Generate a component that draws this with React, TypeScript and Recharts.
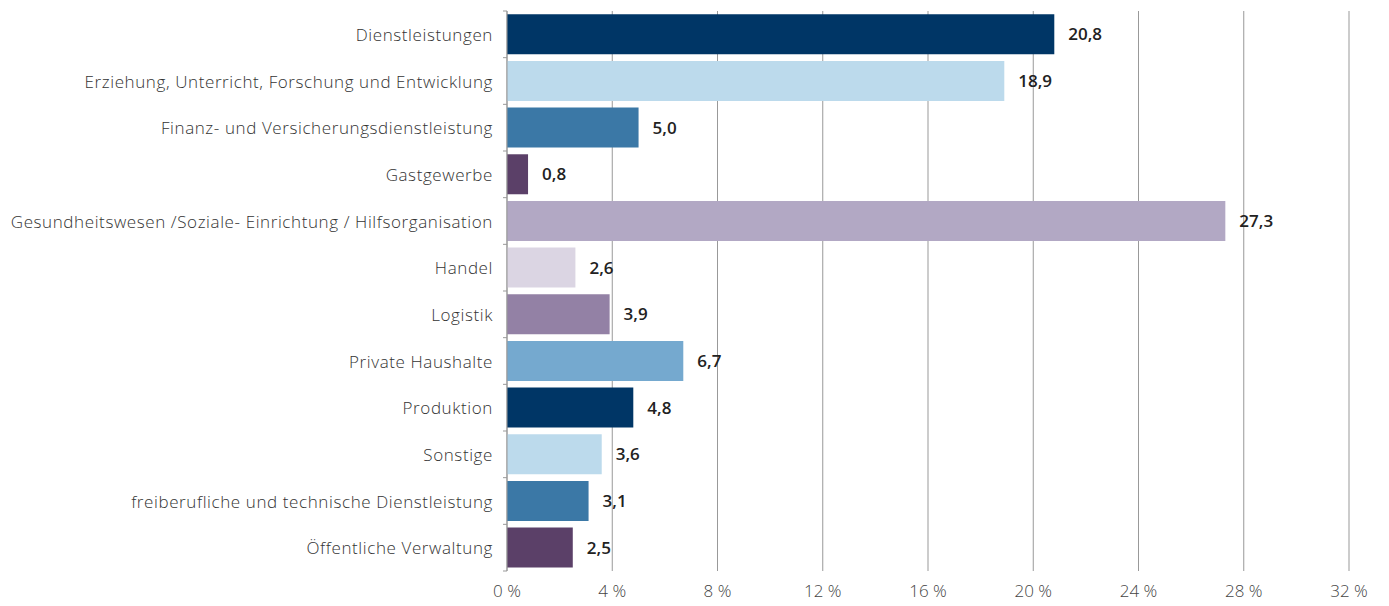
import { BarChart, Bar, XAxis, YAxis, CartesianGrid, Cell, LabelList } from "recharts";

const categories = [
  "Dienstleistungen",
  "Erziehung, Unterricht, Forschung und Entwicklung",
  "Finanz- und Versicherungsdienstleistung",
  "Gastgewerbe",
  "Gesundheitswesen /Soziale- Einrichtung / Hilfsorganisation",
  "Handel",
  "Logistik",
  "Private Haushalte",
  "Produktion",
  "Sonstige",
  "freiberufliche und technische Dienstleistung",
  "Öffentliche Verwaltung",
];
const values = [20.8, 18.9, 5.0, 0.8, 27.3, 2.6, 3.9, 6.7, 4.8, 3.6, 3.1, 2.5];
const colors = [
  "#003666", "#bcdaec", "#3b78a6", "#5b4068", "#b2a8c4", "#dbd5e3",
  "#9381a5", "#75a9cf", "#003666", "#bcdaec", "#3b78a6", "#5b4068",
];
const xTicks = [0, 4, 8, 12, 16, 20, 24, 28, 32];

const data = categories.map((name, i) => ({ name, value: values[i] }));

const W = 1380;
const H = 598;
const TOP = 3;
const BOTTOM = 35;
const AXIS_W = 499;
const BAND = (H - TOP - BOTTOM) / categories.length;
const FONT = "'Open Sans', Lato, sans-serif";

function YTick(props: any) {
  const { y, payload, index } = props;
  const ax = AXIS_W;
  return (
    <g>
      <line x1={ax - 4} x2={ax} y1={y - BAND / 2} y2={y - BAND / 2} stroke="#999" />
      {index === categories.length - 1 && (
        <line x1={ax - 4} x2={ax} y1={y + BAND / 2} y2={y + BAND / 2} stroke="#999" />
      )}
      <text
        x={ax - 14}
        y={y}
        textAnchor="end"
        dominantBaseline="central"
        fontSize={17}
        fontWeight={300}
        letterSpacing={0.6}
        fill="#333"
        fontFamily={FONT}
      >
        {payload.value}
      </text>
    </g>
  );
}

export default function App() {
  return (
    <BarChart
      width={W}
      height={H}
      data={data}
      layout="vertical"
      margin={{ top: TOP, right: 39, bottom: 5, left: 0 }}
      barCategoryGap="7%"
      style={{ fontFamily: FONT }}
    >
      <CartesianGrid horizontal={false} stroke="#999" />
      <XAxis
        type="number"
        domain={[0, 32]}
        ticks={xTicks}
        axisLine={false}
        tickLine={false}
        height={30}
        tickMargin={8}
        tickFormatter={(v: number) => `${v} %`}
        tick={{ fontSize: 17, fontWeight: 300, fill: "#444", fontFamily: FONT }}
      />
      <YAxis
        type="category"
        dataKey="name"
        width={AXIS_W}
        axisLine={{ stroke: "#999" }}
        tickLine={false}
        tick={<YTick />}
        interval={0}
      />
      <Bar dataKey="value" isAnimationActive={false}>
        {data.map((d, i) => (
          <Cell key={d.name} fill={colors[i]} />
        ))}
        <LabelList
          dataKey="value"
          position="right"
          offset={14}
          formatter={(v: any) => Number(v).toFixed(1).replace(".", ",")}
          style={{ fontSize: 17, fontWeight: 600, fill: "#222", fontFamily: FONT }}
        />
      </Bar>
    </BarChart>
  );
}
